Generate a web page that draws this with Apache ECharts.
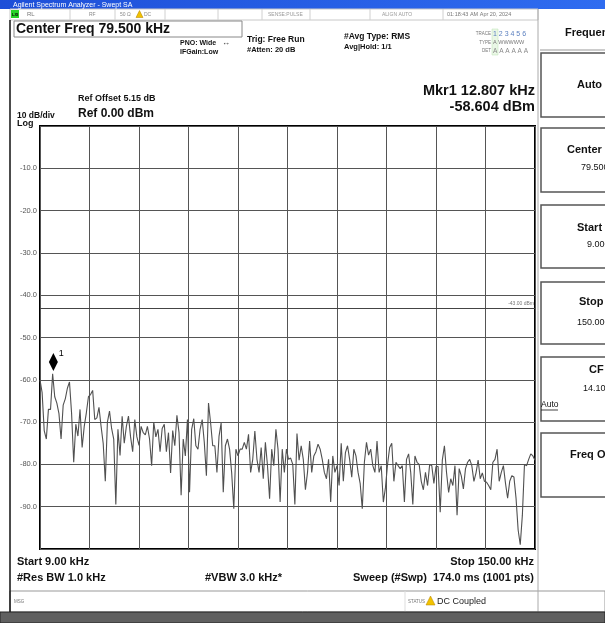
<!DOCTYPE html>
<html>
<head>
<meta charset="utf-8">
<script src="https://cdn.jsdelivr.net/npm/echarts@6/dist/echarts.min.js"></script>
<style>
  html, body { margin: 0; padding: 0; background: #fff; }
  #container { width: 605px; height: 623px; }
</style>
</head>
<body>
<div id="container"></div>
<script>
// sweep: 9 kHz .. 150 kHz, trace every 0.6 kHz
var sweepStart = 9.0;
var sweepStop = 150.0;
var sweepStep = 0.6;

// trace 1 levels (dBm)
var levels = [
  -60, -63, -72, -74, -67, -67, -58.6, -64, -65.5, -68,
  -74, -66, -64.5, -62, -60.5, -68, -79.5, -70.5, -73.3, -67,
  -76, -71, -67.8, -64, -63.5, -62.5, -69.4, -69, -66.5, -71,
  -75, -84, -70, -67.4, -71.5, -74, -89.5, -71.7, -77.9, -68.6,
  -75, -71, -68.6, -73.5, -77, -69.4, -73.5, -75.5, -71, -72.5,
  -73, -71, -74, -80.3, -70, -73.5, -71.7, -77, -71.5, -70.5,
  -77, -72.5, -82, -72, -75.6, -68.4, -72.5, -87.3, -74, -78,
  -69.4, -86.6, -71.7, -69.2, -75.6, -76.4, -71.7, -69.4, -74.8, -82.7,
  -65.5, -70.2, -75.6, -75.6, -81.9, -73.3, -70.2, -86.6, -75.6, -74,
  -76.4, -82, -90.5, -76.4, -78, -76.4, -76.4, -74.8, -76.4, -72.9,
  -81.9, -78.8, -72.1, -78.8, -81.9, -76, -83.4, -74.8, -80.3, -88.1,
  -76.4, -80.3, -71.7, -76.4, -88.9, -76.4, -81.9, -76.4, -78.8, -78.5,
  -80, -89.5, -72.7, -79, -75.6, -78.8, -86, -81.9, -74.5, -81.9,
  -78, -77, -75.2, -76.4, -78.8, -81.9, -83.4, -78.8, -88.9, -78,
  -81.9, -80.3, -85, -75, -84, -77.2, -75.6, -78.8, -83, -76.4,
  -78, -81.9, -84.5, -90.5, -79.5, -74.8, -77.8, -76.4, -80.3, -81.9,
  -74.5, -81.9, -80.3, -88.9, -85.5, -80, -76, -75, -84, -79.5,
  -80.3, -81, -80.3, -88.9, -78.8, -77.5, -81.9, -89.5,
  -78, -79.5, -80, -84, -86, -81.9, -85, -80, -80.3, -84.5,
  -80.5, -80.5, -91.3, -79, -75.6, -81.9, -86.6, -83.4, -85, -80.3,
  -92, -81, -82.7, -85.8, -81, -79.5, -78.8, -80.3, -84, -82,
  -79, -83.4, -82, -84, -84.2, -85, -86, -79.5, -78.8, -76.4,
  -84, -81.9, -80.3, -84.5, -88, -84, -82.7, -83, -88, -95.5,
  -99, -92, -80, -80.3, -78.8, -77.5, -78, -79
];

var marker1 = [12.807, -58.604];
var displayLine = -43;
var yTickLabels = ['-10.0', '-20.0', '-30.0', '-40.0', '-50.0', '-60.0', '-70.0', '-80.0', '-90.0'];

var FONT = '"Liberation Sans", Arial, sans-serif';

function txt(x, y, s, size, o) {
  o = o || {};
  return {
    type: 'text', silent: true, z: 10,
    style: {
      x: x, y: y, text: s,
      font: (o.bold === false ? '' : 'bold ') + size + 'px ' + FONT,
      fill: o.color || '#111',
      textAlign: o.align || 'left',
      textVerticalAlign: 'middle'
    }
  };
}
function box(x, y, w, h, o) {
  o = o || {};
  return {
    type: 'rect', silent: true, z: o.z || 2,
    shape: { x: x, y: y, width: w, height: h },
    style: { fill: o.fill || 'none', stroke: o.stroke || null, lineWidth: o.lw || 1 }
  };
}
function line(x1, y1, x2, y2, c, w) {
  return {
    type: 'line', silent: true, z: 3,
    shape: { x1: x1, y1: y1, x2: x2, y2: y2 },
    style: { stroke: c, lineWidth: w || 1 }
  };
}
function warn(x, y, s) {
  return {
    type: 'polygon', silent: true, z: 10,
    shape: { points: [[x, y + s], [x + s / 2, y], [x + s, y + s]] },
    style: { fill: '#f2c200', stroke: '#b08000', lineWidth: 0.5 }
  };
}

var g = [];
// title bar
g.push({
  type: 'rect', silent: true, z: 2,
  shape: { x: 0, y: 0, width: 605, height: 9 },
  style: { fill: new echarts.graphic.LinearGradient(0, 0, 1, 0, [
    { offset: 0, color: '#1d4fd8' }, { offset: 1, color: '#2f6cf0' }]) }
});
g.push(txt(13, 4.8, 'Agilent Spectrum Analyzer - Swept SA', 7, { color: '#fff', bold: false }));

// status row
g.push(box(10, 9, 528, 11, { fill: '#fff', stroke: '#c8c8c8' }));
g.push(box(11, 10, 8, 8, { fill: '#27d327', z: 5 }));
g.push(txt(12, 14.5, 'LXI', 4, { color: '#000' }));
[70, 115, 165, 218, 262, 310, 370, 443].forEach(function (x) {
  g.push(line(x, 9, x, 20, '#d0d0d0'));
});
g.push(txt(27, 14.5, 'RL', 6, { color: '#777', bold: false }));
g.push(txt(89, 14.5, 'RF', 5, { color: '#888', bold: false }));
g.push(txt(120, 14.5, '50 Ω', 5, { color: '#888', bold: false }));
g.push(warn(136, 10.5, 7));
g.push(txt(144, 14.5, 'DC', 5, { color: '#888', bold: false }));
g.push(txt(268, 14.5, 'SENSE:PULSE', 5, { color: '#999', bold: false }));
g.push(txt(382, 14.5, 'ALIGN AUTO', 5, { color: '#999', bold: false }));
g.push(txt(447, 14.5, '01:18:43 AM Apr 20, 2024', 5.5, { color: '#777', bold: false }));

// frame lines
g.push(line(10, 20, 10, 612, '#111', 1.5));
g.push(line(538, 9, 538, 612, '#aaa', 1));

// header text block
g.push(box(14, 21, 228, 16, { fill: '#fff', stroke: '#888' }));
g.push(txt(16, 29, 'Center Freq 79.500 kHz', 14));
g.push(txt(180, 43, 'PNO: Wide', 7));
g.push(txt(222, 43, '↔', 8, { color: '#333' }));
g.push(txt(180, 52, 'IFGain:Low', 7));
g.push(txt(247, 40, 'Trig: Free Run', 8.5));
g.push(txt(247, 50, '#Atten: 20 dB', 7.5));
g.push(txt(344, 37, '#Avg Type: RMS', 8.5));
g.push(txt(344, 47, 'Avg|Hold: 1/1', 7.5));
g.push(txt(491, 34, 'TRACE', 4.5, { align: 'right', color: '#777', bold: false }));
g.push(txt(491, 42.5, 'TYPE', 4.5, { align: 'right', color: '#777', bold: false }));
g.push(txt(491, 51, 'DET', 4.5, { align: 'right', color: '#777', bold: false }));
g.push(box(492, 29, 6, 26, { fill: '#eaf7e6', stroke: '#b8e0b0', lw: 0.5 }));
g.push(txt(493, 34.5, '1 2 3 4 5 6', 7, { color: '#5a7fbf', bold: false }));
g.push(txt(493, 42.5, 'A WWWWW', 5.5, { color: '#777', bold: false }));
g.push(txt(493, 51, 'A A A A A A', 6.5, { color: '#888', bold: false }));
g.push(txt(535, 91, 'Mkr1 12.807 kHz', 14.5, { align: 'right' }));
g.push(txt(535, 107, '-58.604 dBm', 14.5, { align: 'right' }));
g.push(txt(78, 99, 'Ref Offset 5.15 dB', 9));
g.push(txt(17, 116, '10 dB/div', 8.5));
g.push(txt(78, 114, 'Ref 0.00 dBm', 12));
g.push(txt(17, 123.5, 'Log', 9));

// footer
g.push(txt(17, 562, 'Start 9.00 kHz', 11));
g.push(txt(534, 562, 'Stop 150.00 kHz', 11, { align: 'right' }));
g.push(txt(17, 578, '#Res BW 1.0 kHz', 11));
g.push(txt(205, 578, '#VBW 3.0 kHz*', 11));
g.push(txt(534, 578, 'Sweep (#Swp)  174.0 ms (1001 pts)', 11, { align: 'right' }));
g.push(box(10, 591, 595, 21, { fill: '#fff', stroke: '#999' }));
g.push(line(405, 591, 405, 612, '#ddd'));
g.push(txt(14, 602, 'MSG', 4.5, { color: '#777', bold: false }));
g.push(txt(408, 602, 'STATUS', 4.5, { color: '#777', bold: false }));
g.push(warn(426, 596, 9));
g.push(txt(437, 602, 'DC Coupled', 9, { bold: false, color: '#222' }));
g.push(box(0, 612, 605, 11, { fill: '#606060', stroke: '#222', z: 4 }));

// soft keys
g.push(txt(565, 33, 'Frequency', 11));
g.push(line(540, 50, 605, 50, '#999'));
var keys = [[53, 64], [128, 64], [205, 63], [282, 62], [357, 64], [433, 64]];
keys.forEach(function (k) {
  g.push(box(541, k[0], 70, k[1], { fill: '#fff', stroke: '#555', lw: 1.5 }));
});
g.push(txt(577, 85, 'Auto  Tune', 11));
g.push(txt(567, 150, 'Center Freq', 11));
g.push(txt(581, 168, '79.500000 kHz', 9, { bold: false }));
g.push(txt(577, 228, 'Start Freq', 11));
g.push(txt(587, 245, '9.000000 kHz', 9, { bold: false }));
g.push(txt(579, 302, 'Stop Freq', 11));
g.push(txt(577, 323, '150.000000 kHz', 9, { bold: false }));
g.push(txt(589, 370, 'CF Step', 11));
g.push(txt(583, 389, '14.100000 kHz', 9, { bold: false }));
g.push(txt(541, 405, 'Auto', 8.5, { bold: false }));
g.push(line(541, 410, 558, 410, '#111', 0.8));
g.push(txt(570, 455, 'Freq Offset', 11));

var traceData = levels.map(function (v, i) {
  return [sweepStart + i * sweepStep, v];
});

var myChart = echarts.init(document.getElementById('container'));
myChart.setOption({
  animation: false,
  backgroundColor: '#fff',
  grid: {
    left: 40, top: 126, width: 495, height: 423,
    show: true, borderColor: '#000', borderWidth: 2, backgroundColor: '#fff'
  },
  xAxis: [{
    type: 'value', min: sweepStart, max: sweepStop,
    axisLine: { show: false }, axisTick: { show: false },
    axisLabel: { show: false }, splitLine: { show: false }
  }, {
    // 10 horizontal divisions
    type: 'value', min: 0, max: 10, interval: 1,
    axisLine: { show: false }, axisTick: { show: false },
    axisLabel: { show: false },
    splitLine: { show: true, lineStyle: { color: '#555', width: 1 } }
  }],
  yAxis: {
    type: 'value', min: -100, max: 0, interval: 10,
    axisLine: { show: false }, axisTick: { show: false },
    axisLabel: {
      margin: 3, fontSize: 7.5, color: '#555', fontFamily: FONT,
      formatter: function (v) {
        var k = Math.round(-v / 10) - 1;
        return yTickLabels[k] || '';
      }
    },
    splitLine: { show: true, lineStyle: { color: '#555', width: 1 } }
  },
  series: [{
    type: 'line',
    xAxisIndex: 0,
    data: traceData,
    showSymbol: false,
    lineStyle: { color: '#505050', width: 1.1 },
    z: 5,
    markLine: {
      silent: true, symbol: 'none',
      lineStyle: { color: '#444', width: 1, type: 'solid' },
      label: {
        formatter: '-43.00 dBm', position: 'insideEndTop',
        fontSize: 5, color: '#777', distance: [1, 2]
      },
      data: [{ yAxis: displayLine }]
    },
    markPoint: {
      silent: true,
      symbol: 'diamond', symbolSize: [9, 18], symbolOffset: [0, -12],
      itemStyle: { color: '#000' },
      label: {
        show: true, formatter: '1', position: 'right',
        offset: [-4, -8], fontSize: 9, color: '#000', fontFamily: FONT
      },
      data: [{ coord: marker1 }]
    }
  }],
  graphic: g
});
</script>
</body>
</html>
